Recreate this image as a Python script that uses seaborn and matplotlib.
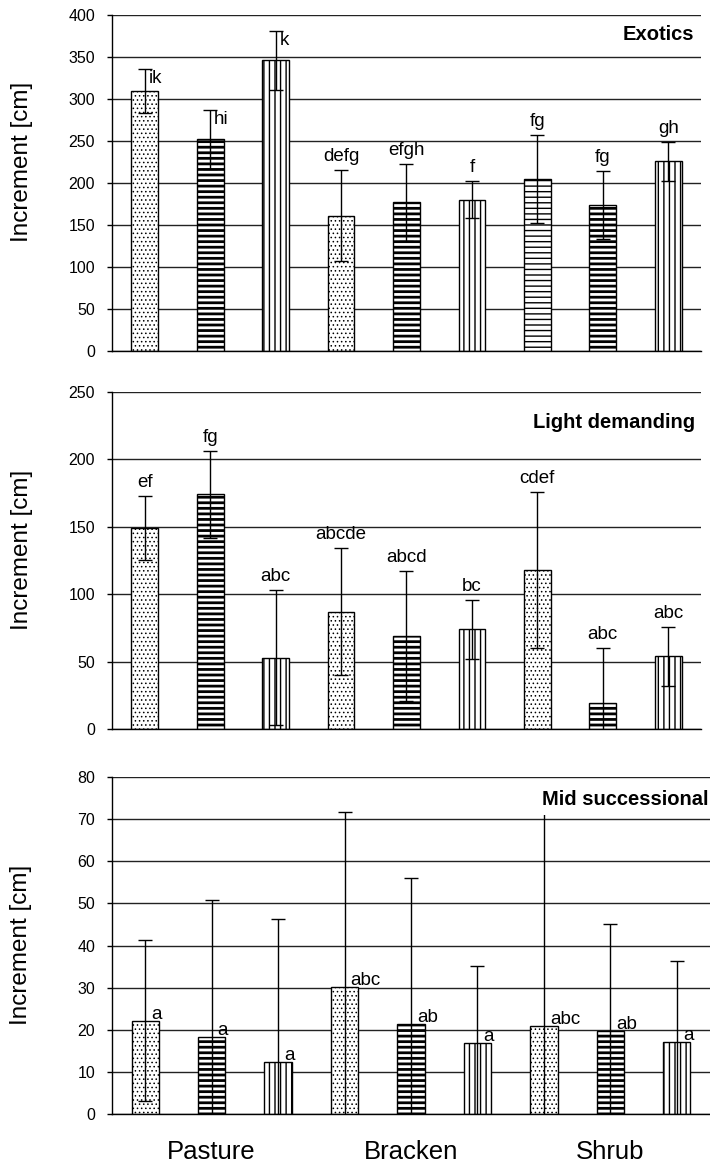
import matplotlib
matplotlib.use("Agg")
import numpy as np
import pandas as pd
import matplotlib.pyplot as plt
import seaborn as sns

# site groups and the three species treatments inside each group
groups = ["Pasture", "Bracken", "Shrub"]
treatments = ["dots", "horizontal", "vertical"]
panel_titles = ["Exotics", "Light demanding", "Mid successional"]

# mean increment [cm] and error, 9 bars per panel (Pasture x3, Bracken x3, Shrub x3)
exotics_mean = [310, 252, 346, 161, 177, 180, 205, 174, 226]
exotics_err = [26, 35, 35, 54, 46, 22, 52, 40, 23]
exotics_letters = ["ik", "hi", "k", "defg", "efgh", "f", "fg", "fg", "gh"]

light_mean = [149, 174, 53, 87, 69, 74, 118, 19, 54]
light_err = [24, 32, 50, 47, 48, 22, 58, 41, 22]
light_letters = ["ef", "fg", "abc", "abcde", "abcd", "bc", "cdef", "abc", "abc"]

mid_mean = [22.2, 18.4, 12.4, 30.2, 21.4, 16.9, 21.0, 19.8, 17.0]
mid_err = [19.2, 32.3, 34.0, 41.6, 34.7, 18.2, 53.0, 25.4, 19.4]
mid_letters = ["a", "a", "a", "abc", "ab", "a", "abc", "ab", "a"]

y_max = [400, 250, 80]
y_step = [50, 50, 10]

# hatch per bar (panel 1 has a lighter striped 7th bar)
hatch_map = {"dots": "....", "horizontal": "---", "horizontal_light": "---", "vertical": "|||"}
hatch_lw = {"dots": 0.6, "horizontal": 2.0, "horizontal_light": 1.0, "vertical": 1.0}
panel_hatches = [
    ["dots", "horizontal", "vertical", "dots", "horizontal", "vertical",
     "horizontal_light", "horizontal", "vertical"],
    ["dots", "horizontal", "vertical"] * 3,
    ["dots", "horizontal", "vertical"] * 3,
]
# where the significance letters sit
letter_modes = [
    ["right"] * 3 + ["above"] * 6,
    ["above"] * 9,
    ["bar"] * 9,
]

sns.set_style("white")
plt.rcParams["font.family"] = ["Liberation Sans", "DejaVu Sans"]
plt.rcParams["hatch.linewidth"] = 1.0
for key in ["text.color", "axes.labelcolor", "xtick.color", "ytick.color"]:
    plt.rcParams[key] = "black"

fig = plt.figure(figsize=(7.1, 11.69), dpi=100)
rects = [
    [0.1577, 0.6997, 0.8296, 0.2874],
    [0.1577, 0.3764, 0.8296, 0.2883],
    [0.1577, 0.0470, 0.8423, 0.2883],
]
title_offsets = [(-7, -25), (-6, -36), (-2, -28)]
ylabel_y = [0.5625, 0.531, 0.501]

panels = [
    (exotics_mean, exotics_err, exotics_letters),
    (light_mean, light_err, light_letters),
    (mid_mean, mid_err, mid_letters),
]

for i, (means, errs, letters) in enumerate(panels):
    ax = fig.add_axes(rects[i])
    df = pd.DataFrame({"slot": np.arange(len(means)), "mean": means})
    sns.barplot(data=df, x="slot", y="mean", color="white", edgecolor="black",
                linewidth=1, width=0.41, errorbar=None, saturation=1, ax=ax)
    for patch, key in zip(ax.patches, panel_hatches[i]):
        patch.set_hatch(hatch_map[key])
        if hasattr(patch, "set_hatch_linewidth"):
            patch.set_hatch_linewidth(hatch_lw[key])
        patch.set_zorder(2)

    xs = np.arange(len(means))
    ax.errorbar(xs, means, yerr=errs, fmt="none", ecolor="black",
                elinewidth=1, capsize=5, capthick=1, zorder=3)

    ax.set_xlim(-0.5, len(means) - 0.5)
    ax.set_ylim(0, y_max[i])
    ax.set_yticks(np.arange(0, y_max[i] + 1, y_step[i]))
    ax.set_axisbelow(True)
    ax.yaxis.grid(True, color="#222222", linewidth=1)
    ax.xaxis.grid(False)
    for side in ["top", "right"]:
        ax.spines[side].set_visible(False)
    for side in ["left", "bottom"]:
        ax.spines[side].set_color("black")
        ax.spines[side].set_linewidth(1)
    ax.tick_params(axis="y", direction="out", length=3.6, width=1,
                   pad=8.5, labelsize=11.5, left=True, colors="black")

    ax.set_ylabel("Increment [cm]", fontsize=17.5)
    ax.yaxis.set_label_coords(-0.134, ylabel_y[i])
    ax.set_xlabel("")

    if i == 2:
        ax.set_xticks([1, 4, 7])
        ax.set_xticklabels(groups, fontsize=18.5)
        ax.tick_params(axis="x", length=0, pad=19)
    else:
        ax.set_xticks([])

    # significance letters
    for x, m, e, lab, mode in zip(xs, means, errs, letters, letter_modes[i]):
        if mode == "above":
            ax.annotate(lab, xy=(x, m + e), xytext=(0, 9), textcoords="offset pixels",
                        ha="center", va="baseline", fontsize=13.5, zorder=5)
        elif mode == "right":
            ax.annotate(lab, xy=(x, m + e), xytext=(4, -1), textcoords="offset pixels",
                        ha="left", va="top", fontsize=13.5, zorder=5)
        else:
            ax.annotate(lab, xy=(x, m), xytext=(6, 2), textcoords="offset pixels",
                        ha="left", va="baseline", fontsize=13.5, zorder=5)

    dx, dy = title_offsets[i]
    ax.annotate(panel_titles[i], xy=(1, 1), xycoords="axes fraction",
                xytext=(dx, dy), textcoords="offset pixels", ha="right",
                va="baseline", fontsize=14.5, fontweight="bold", zorder=10,
                bbox=dict(facecolor="white", edgecolor="none", pad=4))

fig.savefig("out.png", dpi=100)
